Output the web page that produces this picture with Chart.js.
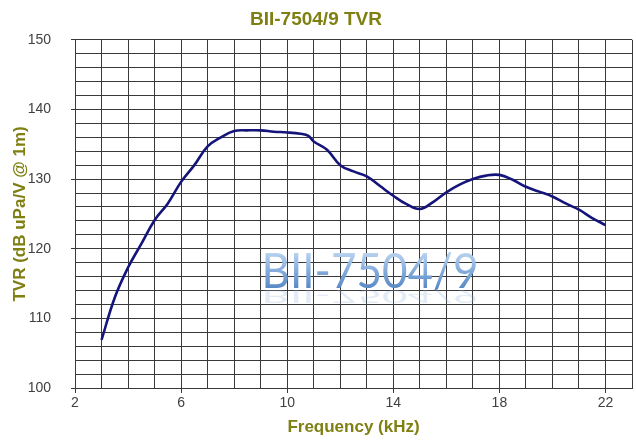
<!DOCTYPE html>
<html>
<head>
<meta charset="utf-8">
<script src="https://cdn.jsdelivr.net/npm/chart.js@4"></script>
<style>
  html, body { margin: 0; padding: 0; background: #fff; }
  #wrap { width: 636px; height: 441px; }
</style>
</head>
<body>
<div id="wrap"><canvas id="myChart" width="636" height="441"></canvas></div>
<script>
// frequency in kHz, TVR in dB uPa/V @ 1m
const freqs = [3, 3.5, 4, 4.5, 5, 5.5, 6, 6.5, 7, 7.5, 8, 8.5, 9, 9.5, 10, 10.5, 10.8, 11, 11.5, 12,
    12.5, 13, 13.5, 14, 14.5, 15, 15.5, 16, 16.5, 17, 17.5, 18, 18.5, 19, 19.5, 20, 20.5, 21, 21.5, 22]
const tvr = [106.9, 113.0, 117.3, 120.7, 124.1, 126.5, 129.6, 132.0, 134.7, 136.0, 136.9, 137.0, 137.0, 136.8, 136.7, 136.5, 136.2, 135.4, 134.2, 132.0,
    131.1, 130.4, 129.0, 127.6, 126.4, 125.7, 126.7, 128.1, 129.2, 130.0, 130.5, 130.6, 129.9, 128.9, 128.2, 127.5, 126.5, 125.6, 124.4, 123.4]

const xLabels = [2, 6, 10, 14, 18, 22]
const yLabels = [100, 110, 120, 130, 140, 150]

const chartTitle = 'BII-7504/9 TVR'
const xTitle = 'Frequency (kHz)'
const yTitle = 'TVR (dB uPa/V @ 1m)'
const watermark = 'BII-7504/9'

const olive = '#7f7f12'

// big light-blue text over the plot
const watermarkPlugin = {
    id: 'watermark',
    afterDraw(chart) {
        const ctx = chart.ctx
        const x = chart.scales.x.getPixelForValue(9.03)
        const base = chart.scales.y.getPixelForValue(114.4)
        ctx.save()
        ctx.font = '49px Lato, "Liberation Sans", sans-serif'
        const w = ctx.measureText(watermark).width
        const sx = 217 / w
        // faint reflection
        ctx.save()
        ctx.translate(x, base + 2)
        ctx.scale(sx, -0.35)
        const rg = ctx.createLinearGradient(0, 0, 0, 36)
        rg.addColorStop(0, 'rgba(140,175,220,0.25)')
        rg.addColorStop(1, 'rgba(255,255,255,0)')
        ctx.fillStyle = rg
        ctx.fillText(watermark, 0, 0)
        ctx.restore()
        // text
        ctx.translate(x, base)
        ctx.scale(sx, 1)
        const g = ctx.createLinearGradient(0, -36, 0, 0)
        g.addColorStop(0, '#bcd5f1')
        g.addColorStop(0.5, '#86aedd')
        g.addColorStop(1, '#5a8ac5')
        ctx.fillStyle = g
        ctx.fillText(watermark, 0, 0)
        ctx.restore()
    }
}

const ctx = document.getElementById('myChart')

new Chart(ctx, {
    type: 'line',
    data: {
        datasets: [{
            label: chartTitle,
            data: freqs.map((f, i) => ({ x: f, y: tvr[i] })),
            borderColor: '#14147a',
            borderWidth: 2.6,
            pointRadius: 0,
            tension: 0.4,
            fill: false
        }]
    },
    options: {
        responsive: false,
        animation: false,
        layout: { padding: { right: 4, left: 0, top: 0, bottom: 0 } },
        plugins: {
            legend: { display: false },
            tooltip: { enabled: false },
            title: {
                display: true,
                text: chartTitle,
                color: olive,
                font: { family: '"Liberation Sans", Arial, sans-serif', size: 19, weight: 'bold' },
                padding: { top: 8, bottom: 9 }
            }
        },
        scales: {
            x: {
                type: 'linear',
                min: 2,
                max: 23,
                afterFit: s => { s.height = 53 },
                afterBuildTicks: s => {
                    s.ticks = []
                    for (let v = 2; v <= 23; v++) s.ticks.push({ value: v })
                },
                ticks: {
                    autoSkip: false,
                    maxRotation: 0,
                    color: '#404040',
                    font: { family: '"Liberation Sans", Arial, sans-serif', size: 14 },
                    padding: 2,
                    callback: v => xLabels.includes(v) ? String(v) : ''
                },
                grid: {
                    color: '#3a3a3a',
                    lineWidth: 1,
                    tickLength: 5,
                    tickColor: c => xLabels.includes(c.tick.value) ? '#3a3a3a' : 'rgba(0,0,0,0)'
                },
                border: { color: '#3a3a3a', width: 1 },
                title: {
                    display: true,
                    text: xTitle,
                    color: olive,
                    font: { family: '"Liberation Sans", Arial, sans-serif', size: 17, weight: 'bold' },
                    padding: { top: 0, bottom: 3 }
                }
            },
            y: {
                min: 100,
                max: 150,
                afterFit: s => { s.width = 75 },
                afterBuildTicks: s => {
                    s.ticks = []
                    for (let v = 100; v <= 150; v += 2) s.ticks.push({ value: v })
                },
                ticks: {
                    autoSkip: false,
                    color: '#404040',
                    font: { family: '"Liberation Sans", Arial, sans-serif', size: 14 },
                    padding: 20,
                    callback: v => yLabels.includes(v) ? String(v) : ''
                },
                grid: {
                    color: '#3a3a3a',
                    lineWidth: 1,
                    tickLength: 4,
                    tickColor: c => yLabels.includes(c.tick.value) ? '#3a3a3a' : 'rgba(0,0,0,0)'
                },
                border: { color: '#3a3a3a', width: 1 },
                title: {
                    display: true,
                    text: yTitle,
                    color: olive,
                    font: { family: '"Liberation Sans", Arial, sans-serif', size: 17, weight: 'bold' },
                    padding: { top: 10, bottom: 0 }
                }
            }
        }
    },
    plugins: [watermarkPlugin]
})
</script>
</body>
</html>
